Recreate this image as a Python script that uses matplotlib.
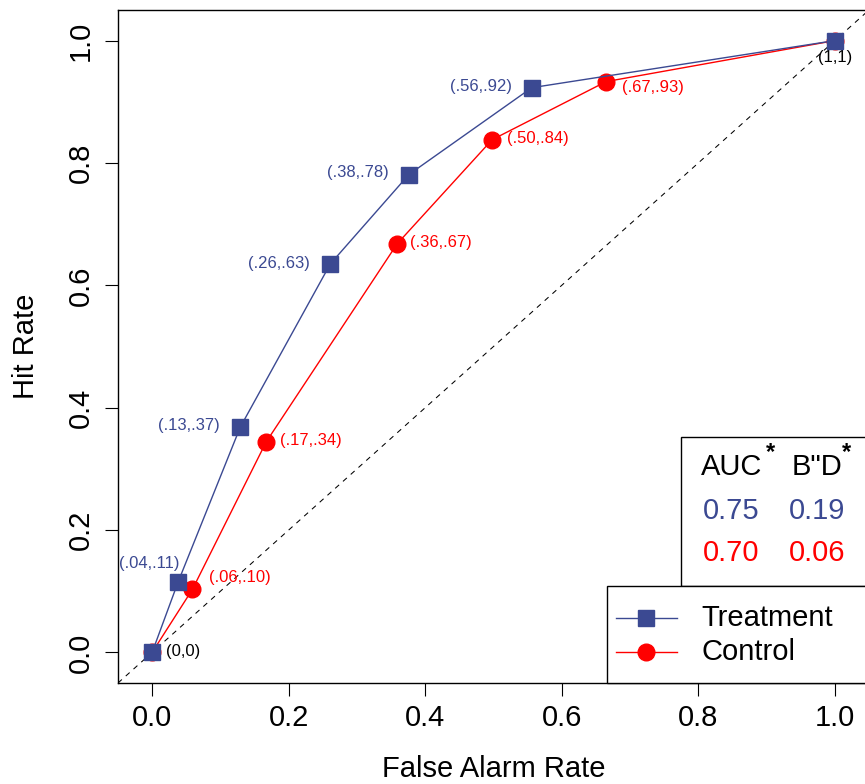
import matplotlib
matplotlib.use("Agg")
import matplotlib.pyplot as plt
from matplotlib.patches import Rectangle
from matplotlib.lines import Line2D

plt.rcParams['font.family'] = ['Liberation Sans', 'DejaVu Sans']

# ---- data ----
treat_far = [0.0, 0.038, 0.129, 0.261, 0.376, 0.556, 1.0]
treat_hr = [0.0, 0.115, 0.368, 0.635, 0.781, 0.923, 1.0]
treat_labels = ["", "(.04,.11)", "(.13,.37)", "(.26,.63)", "(.38,.78)", "(.56,.92)", ""]

ctrl_far = [0.0, 0.059, 0.167, 0.359, 0.498, 0.665, 1.0]
ctrl_hr = [0.0, 0.103, 0.344, 0.668, 0.838, 0.933, 1.0]
ctrl_labels = ["", "(.06,.10)", "(.17,.34)", "(.36,.67)", "(.50,.84)", "(.67,.93)", ""]

series_names = ["Treatment", "Control"]
metric_names = ["AUC", "B\"D"]
auc_values = ["0.75", "0.70"]
bd_values = ["0.19", "0.06"]

xticks = [0.0, 0.2, 0.4, 0.6, 0.8, 1.0]
yticks = [0.0, 0.2, 0.4, 0.6, 0.8, 1.0]

BLUE = '#3B4992'
RED = '#FF0000'

# ---- style offsets (points) ----
treat_offsets = [None, (-21, 13.7), (-14.4, 1.4), (-14.4, 0), (-14.4, 1.4), (-14.4, 0.7), None]
treat_ha = [None, 'center', 'right', 'right', 'right', 'right', None]
ctrl_offsets = [None, (12, 8.6), (10, 0.7), (9.4, 0.7), (10.8, 0.7), (11.5, -4.3), None]

W, H = 865, 784
fig = plt.figure(figsize=(W / 100, H / 100), dpi=100)
ax = fig.add_axes([118 / W, 101 / H, 751 / W, 673 / H])
ax.set_xlim(-0.05, 1.05)
ax.set_ylim(-0.05, 1.05)

ax.axline((0, 0), (1, 1), color='black', lw=0.75, ls=(0, (5, 5)), zorder=1)

ax.plot(ctrl_far, ctrl_hr, color=RED, lw=1.0, marker='o', ms=12, mec=RED, mfc=RED, zorder=3)
ax.plot(treat_far, treat_hr, color=BLUE, lw=1.0, marker='s', ms=11.5, mec=BLUE, mfc=BLUE, zorder=4)

for x, y, lab, off, ha in zip(treat_far, treat_hr, treat_labels, treat_offsets, treat_ha):
    if lab:
        ax.annotate(lab, (x, y), xytext=off, textcoords='offset points',
                    ha=ha, va='center', fontsize=12, color=BLUE)
for x, y, lab, off in zip(ctrl_far, ctrl_hr, ctrl_labels, ctrl_offsets):
    if lab:
        ax.annotate(lab, (x, y), xytext=off, textcoords='offset points',
                    ha='left', va='center', fontsize=12, color=RED)

ax.annotate("(0,0)", (treat_far[0], treat_hr[0]), xytext=(10, 0.5), textcoords='offset points',
            ha='left', va='center', fontsize=12, color='black')
ax.annotate("(1,1)", (treat_far[-1], treat_hr[-1]), xytext=(0, -12), textcoords='offset points',
            ha='center', va='center', fontsize=12, color='black')

# ticks
ax.set_xticks(xticks)
ax.set_yticks(yticks)
ax.set_xticklabels([f"{t:.1f}" for t in xticks])
ax.set_yticklabels([f"{t:.1f}" for t in yticks])
ax.tick_params(axis='both', length=9.4, width=0.8, labelsize=21)
ax.tick_params(axis='x', pad=6)
ax.tick_params(axis='y', pad=7, labelrotation=90)
for lab in ax.get_yticklabels():
    lab.set_va('center')
for s in ax.spines.values():
    s.set_linewidth(1.0)

fig.text(494 / W, 1 - 777 / H, "False Alarm Rate", ha='center', va='baseline', fontsize=21)
fig.text(34 / W, 1 - 346 / H, "Hit Rate", ha='center', va='baseline', rotation=90,
         rotation_mode='anchor', fontsize=21)

# metrics box
ax.add_patch(Rectangle((0.7745, 0.108), 0.4, 0.352 - 0.108, fill=False, ec='black', lw=1.0,
                       zorder=5, clip_on=False))
ax.text(0.804, 0.303, metric_names[0], fontsize=21, ha='left', va='center', zorder=6)
ax.text(0.906, 0.327, "*", fontsize=17, ha='center', va='center', zorder=6, fontweight='bold')
ax.text(0.937, 0.303, metric_names[1], fontsize=21, ha='left', va='center', zorder=6)
ax.text(1.0176, 0.327, "*", fontsize=17, ha='center', va='center', zorder=6, fontweight='bold')
ax.text(0.807, 0.231, auc_values[0], fontsize=21, color=BLUE, ha='left', va='center', zorder=6)
ax.text(0.932, 0.231, bd_values[0], fontsize=21, color=BLUE, ha='left', va='center', zorder=6)
ax.text(0.807, 0.162, auc_values[1], fontsize=21, color=RED, ha='left', va='center', zorder=6)
ax.text(0.932, 0.162, bd_values[1], fontsize=21, color=RED, ha='left', va='center', zorder=6)

# legend box
ax.add_patch(Rectangle((0.666, -0.05), 0.5, 0.108 + 0.05, fc='white', ec='black', lw=1.0,
                       zorder=7, clip_on=False))
leg_y = [0.0556, 0.0]
leg_colors = [BLUE, RED]
leg_markers = ['s', 'o']
leg_ms = [11.5, 12]
for yy, name, c, m, ms in zip(leg_y, series_names, leg_colors, leg_markers, leg_ms):
    ax.add_line(Line2D([0.679, 0.769], [yy, yy], color=c, lw=1.0, zorder=8))
    ax.add_line(Line2D([0.724], [yy], color=c, marker=m, ms=ms, mfc=c, mec=c, zorder=9))
    ax.text(0.805, yy, name, fontsize=21, ha='left', va='center', zorder=9)

fig.savefig("out.png", dpi=100)
